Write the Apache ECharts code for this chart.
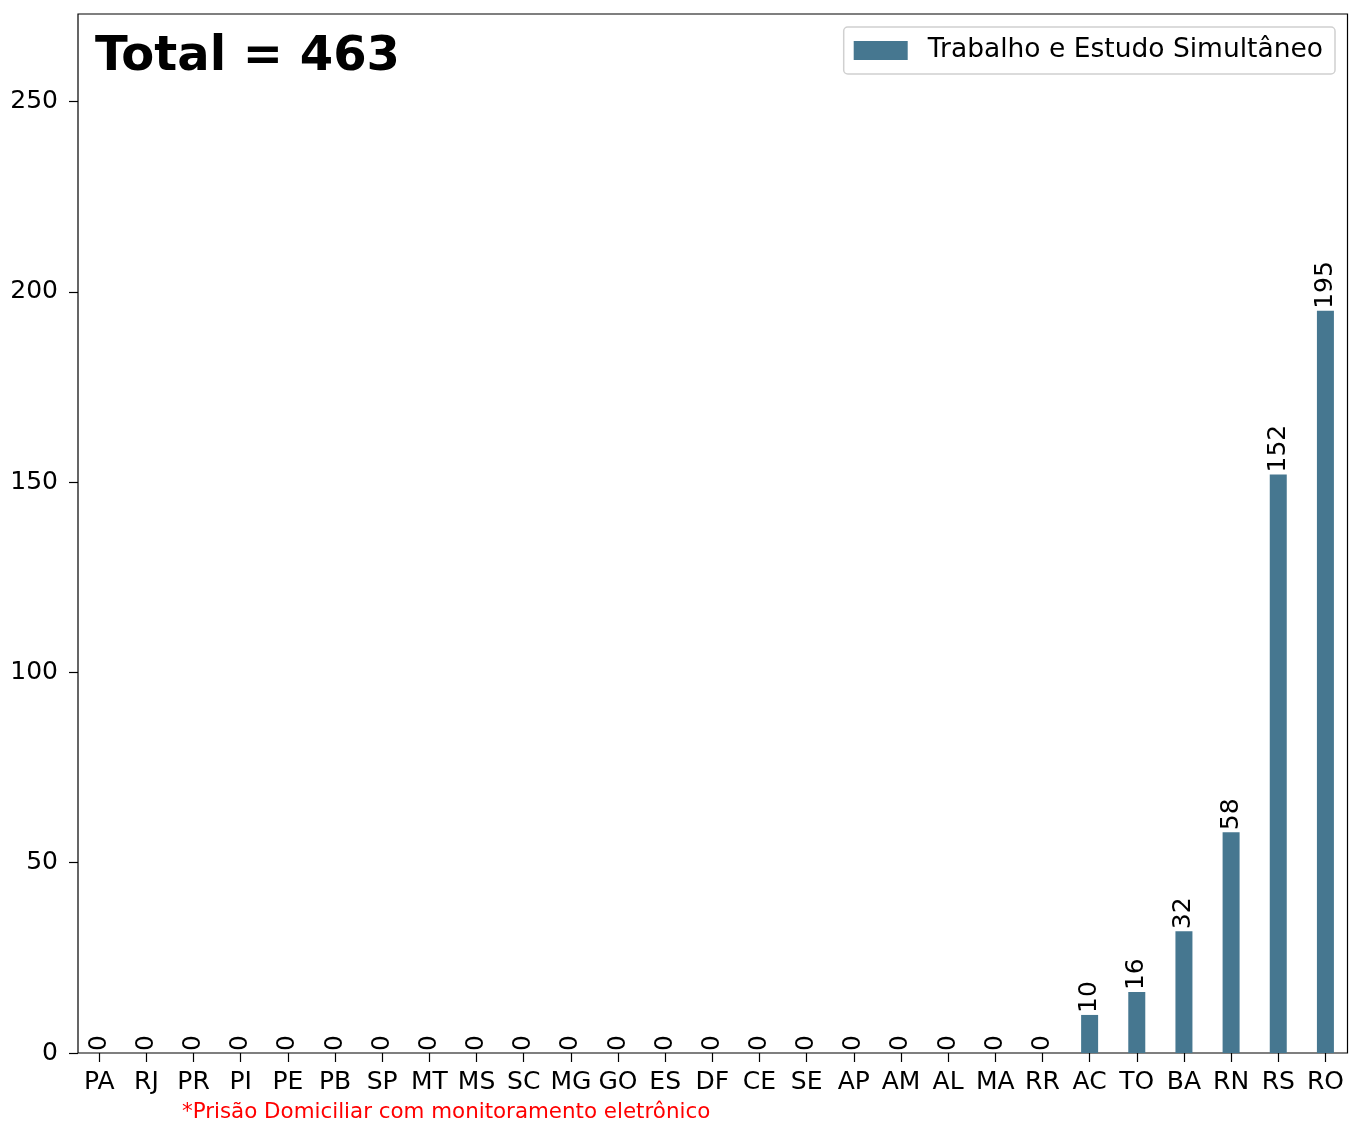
<!DOCTYPE html>
<html>
<head>
<meta charset="utf-8">
<script src="https://cdn.jsdelivr.net/npm/echarts@6/dist/echarts.min.js"></script>
<style>html,body{margin:0;padding:0;background:#fff}#c{width:1349px;height:1121px}</style>
</head>
<body>
<div id="c"></div>
<script>
const categories = ['PA','RJ','PR','PI','PE','PB','SP','MT','MS','SC','MG','GO','ES','DF','CE','SE','AP','AM','AL','MA','RR','AC','TO','BA','RN','RS','RO'];
const values = [0,0,0,0,0,0,0,0,0,0,0,0,0,0,0,0,0,0,0,0,0,10,16,32,58,152,195];
const seriesName = 'Trabalho e Estudo Simultâneo';
const titleText = 'Total = 463';
const footnote = '*Prisão Domiciliar com monitoramento eletrônico';
const yMin = 0, yTickMax = 250, yLimit = 273, yInterval = 50;

const FONT = 'DejaVu Sans';
const BAR = '#467790';
const plotLeft = 78, plotTop = 14, plotW = 1269.5, plotH = 1039;
const plotBottom = plotTop + plotH;
const pxPerUnit = plotH / yLimit;
const tickTop = plotBottom - yTickMax * pxPerUnit;
const firstC = 99.3, lastC = 1328.3;
const band = (lastC - firstC) / (categories.length - 1);

const chart = echarts.init(document.getElementById('c'), null, {renderer: 'canvas'});
chart.setOption({
  animation: false,
  backgroundColor: '#fff',
  textStyle: {fontFamily: FONT},
  title: {
    text: titleText, left: 90, top: 29,
    textStyle: {fontFamily: FONT, fontSize: 48, fontWeight: 'bold', color: '#000'}
  },
  legend: {
    data: [seriesName], right: 14, top: 27, orient: 'horizontal',
    itemWidth: 54, itemHeight: 19, icon: 'rect',
    borderColor: '#d0d0d0', borderWidth: 1.5, borderRadius: 4,
    padding: [10, 12, 10, 10],
    textStyle: {fontFamily: FONT, fontSize: 26.5, color: '#000', padding: [0, 0, 0, 15]}
  },
  grid: [
    {left: plotLeft, top: plotTop, width: plotW, height: plotH, show: true, borderColor: '#000', borderWidth: 1.2, backgroundColor: 'transparent'},
    {left: firstC - band / 2, top: tickTop, width: band * categories.length, height: plotBottom - tickTop},
    {left: plotLeft, top: tickTop, width: plotW, height: plotBottom - tickTop}
  ],
  xAxis: [
    {gridIndex: 0, type: 'value', min: 0, max: 1, show: false},
    {gridIndex: 1, type: 'category', data: categories, boundaryGap: true,
     axisLine: {show: false},
     axisTick: {show: true, alignWithLabel: true, length: 9, lineStyle: {color: '#000', width: 1.2}},
     axisLabel: {fontFamily: FONT, fontSize: 25, color: '#000', margin: 17, interval: 0}},
    {gridIndex: 2, type: 'value', min: 0, max: 1, show: false}
  ],
  yAxis: [
    {gridIndex: 0, type: 'value', min: 0, max: 1, show: false},
    {gridIndex: 1, type: 'value', min: yMin, max: yTickMax, show: false, splitLine: {show: false}},
    {gridIndex: 2, type: 'value', min: yMin, max: yTickMax, interval: yInterval,
     axisLine: {show: false},
     axisTick: {show: true, length: 9, lineStyle: {color: '#000', width: 1.2}},
     splitLine: {show: false},
     axisLabel: {fontFamily: FONT, fontSize: 25, color: '#000', margin: 20}}
  ],
  series: [{
    name: seriesName, type: 'bar', xAxisIndex: 1, yAxisIndex: 1,
    data: values, barWidth: 17,
    itemStyle: {color: BAR},
    label: {show: true, position: 'top', rotate: 90, align: 'left', verticalAlign: 'middle',
      distance: 2, fontFamily: FONT, fontSize: 25, color: '#000'}
  }],
  graphic: [{
    type: 'text', left: 182, top: 1102,
    style: {text: footnote, fill: '#ff0000', font: '21.4px "DejaVu Sans"'}
  }]
});
</script>
</body>
</html>
